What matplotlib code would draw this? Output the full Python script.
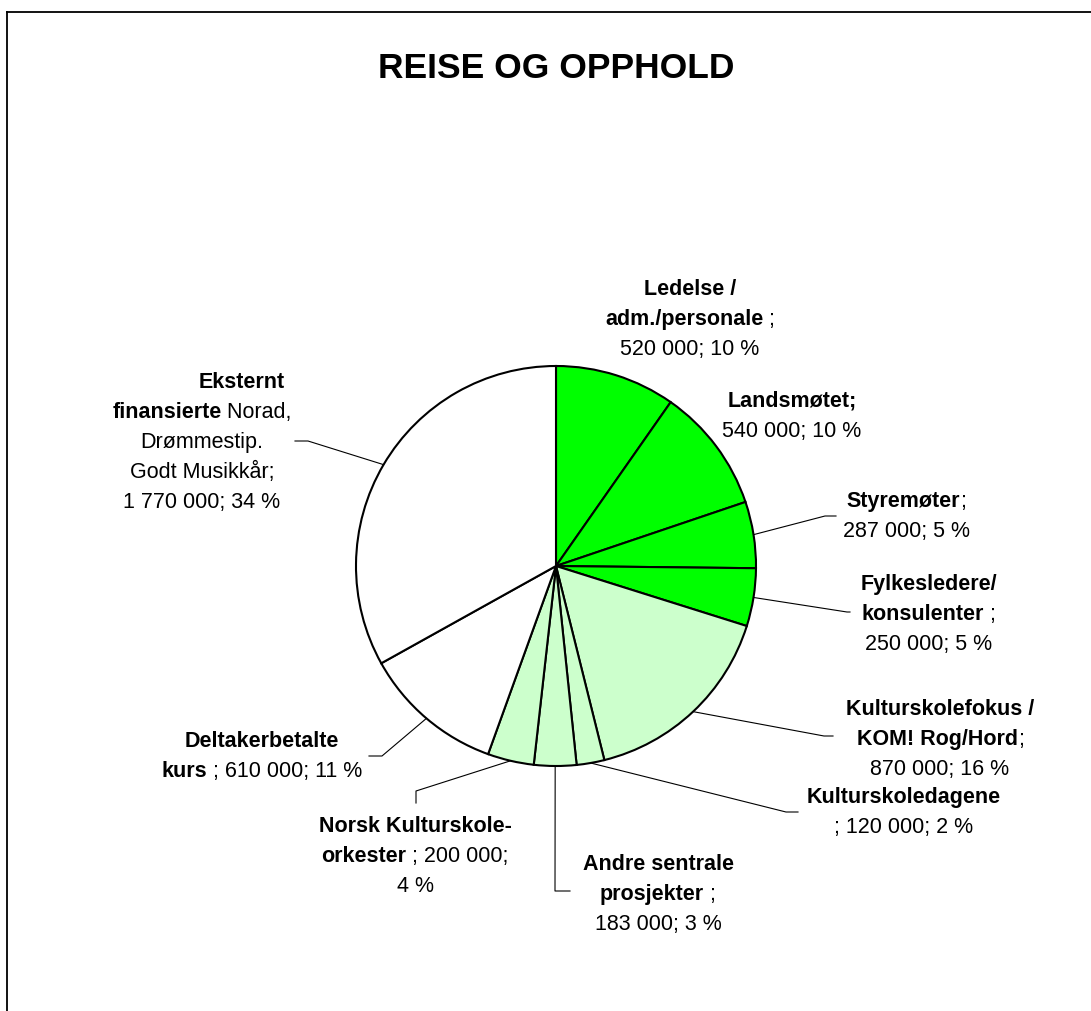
import numpy as np
import matplotlib
matplotlib.use("Agg")
import matplotlib.pyplot as plt
from matplotlib.font_manager import FontProperties
from matplotlib.lines import Line2D

# ---------------- data ----------------
title = "REISE OG OPPHOLD"
categories = ["Ledelse / adm./personale", "Landsmøtet", "Styremøter",
              "Fylkesledere/ konsulenter", "Kulturskolefokus / KOM! Rog/Hord",
              "Kulturskoledagene", "Andre sentrale prosjekter",
              "Norsk Kulturskole-orkester", "Deltakerbetalte kurs",
              "Eksternt finansierte Norad, Drømmestip. Godt Musikkår"]
values = [520000, 540000, 287000, 250000, 870000, 120000, 183000, 200000, 610000, 1770000]
percents = ["10 %", "10 %", "5 %", "5 %", "16 %", "2 %", "3 %", "4 %", "11 %", "34 %"]
colors = ["#00FF00"] * 4 + ["#CCFFCC"] * 4 + ["#FFFFFF"] * 2

# label text layout: lines of (text, bold) segments; {v}=value, {p}=percent
label_layout = [
    [[("Ledelse /", 1)], [("adm./personale", 1), (" ;", 0)], [("{v}; {p}", 0)]],
    [[("Landsmøtet;", 1)], [("{v}; {p}", 0)]],
    [[("Styremøter", 1), (";", 0)], [("{v}; {p}", 0)]],
    [[("Fylkesledere/", 1)], [("konsulenter", 1), (" ;", 0)], [("{v}; {p}", 0)]],
    [[("Kulturskolefokus /", 1)], [("KOM! Rog/Hord", 1), (";", 0)], [("{v}; {p}", 0)]],
    [[("Kulturskoledagene", 1)], [("; {v}; {p}", 0)]],
    [[("Andre sentrale", 1)], [("prosjekter", 1), (" ;", 0)], [("{v}; {p}", 0)]],
    [[("Norsk Kulturskole-", 1)], [("orkester", 1), (" ; {v};", 0)], [("{p}", 0)]],
    [[("Deltakerbetalte", 1)], [("kurs", 1), (" ; {v}; {p}", 0)]],
    [[("Eksternt", 1)], [("finansierte", 1), (" Norad,", 0)], [("Drømmestip.", 0)],
     [("Godt Musikkår;", 0)], [("{v}; {p}", 0)]],
]

# label placement (pixels from top-left): centre x, first baseline y
label_cx = [690, 792, 906, 929, 940, 904, 658, 415, 262, 202]
label_y0 = [295, 407, 507, 590, 715, 803, 870, 832, 747, 388]
line_gap = 30
first_line_dx = {9: 40}
# leader lines: elbow and end points (pixels), None = no leader
leaders = [None, None,
           [(825, 517), (836, 517)],
           [(847, 613), (850, 613)],
           [(824, 737), (833, 737)],
           [(786, 813), (798, 813)],
           [(555, 892), (570, 892)],
           [(416, 792), (416, 804)],
           [(382, 757), (369, 757)],
           [(308, 442), (295, 442)]]

# ---------------- figure ----------------
W, H = 1091, 1012
fig = plt.figure(figsize=(W / 100, H / 100), dpi=100)
ax = fig.add_axes([0, 0, 1, 1])
FONT = "Liberation Sans"
FS = 15.5

cx0, cy0, R = 556, 567, 200
wedges, _ = ax.pie(values, colors=colors, startangle=90, counterclock=False,
                   center=(cx0, H - cy0), radius=R,
                   wedgeprops=dict(edgecolor="black", linewidth=1.5))
ax.set_xlim(0, W)
ax.set_ylim(0, H)
ax.set_aspect("equal")
ax.axis("off")

# frame (partially visible)
fig.add_artist(Line2D([7 / W, 1.0], [1 - 12.5 / H] * 2, transform=fig.transFigure,
                      color="black", lw=1.3))
fig.add_artist(Line2D([7 / W] * 2, [0, 1 - 12.5 / H], transform=fig.transFigure,
                      color="black", lw=1.3))

ax.text(cx0, H - 78, title, ha="center", va="baseline", fontsize=25.5,
        fontweight="bold", family=FONT)

renderer = fig.canvas.get_renderer()
props = {1: FontProperties(family=FONT, weight="bold", size=FS),
         0: FontProperties(family=FONT, weight="normal", size=FS)}


def seg_width(s, b):
    w1, _, _ = renderer.get_text_width_height_descent(s + "|", props[b], ismath=False)
    w2, _, _ = renderer.get_text_width_height_descent("|", props[b], ismath=False)
    return w1 - w2


def fmt_val(v):
    return f"{v:,}".replace(",", " ")


for i, layout in enumerate(label_layout):
    for j, line in enumerate(layout):
        segs = [(t.format(v=fmt_val(values[i]), p=percents[i]), b) for t, b in line]
        widths = [seg_width(t, b) for t, b in segs]
        x = label_cx[i] - sum(widths) / 2
        if j == 0:
            x += first_line_dx.get(i, 0)
        y = H - (label_y0[i] + j * line_gap)
        for (t, b), w in zip(segs, widths):
            ax.text(x, y, t, ha="left", va="baseline", fontproperties=props[b])
            x += w

# leader lines from wedge mid-angle
for i, w in enumerate(wedges):
    if leaders[i] is None:
        continue
    ang = np.deg2rad((w.theta1 + w.theta2) / 2)
    sx = cx0 + R * np.cos(ang)
    sy = (H - cy0) + R * np.sin(ang)
    xs = [sx] + [p[0] for p in leaders[i]]
    ys = [sy] + [H - p[1] for p in leaders[i]]
    ax.plot(xs, ys, color="black", lw=0.8)

fig.savefig("out.png", dpi=100, facecolor="white")
